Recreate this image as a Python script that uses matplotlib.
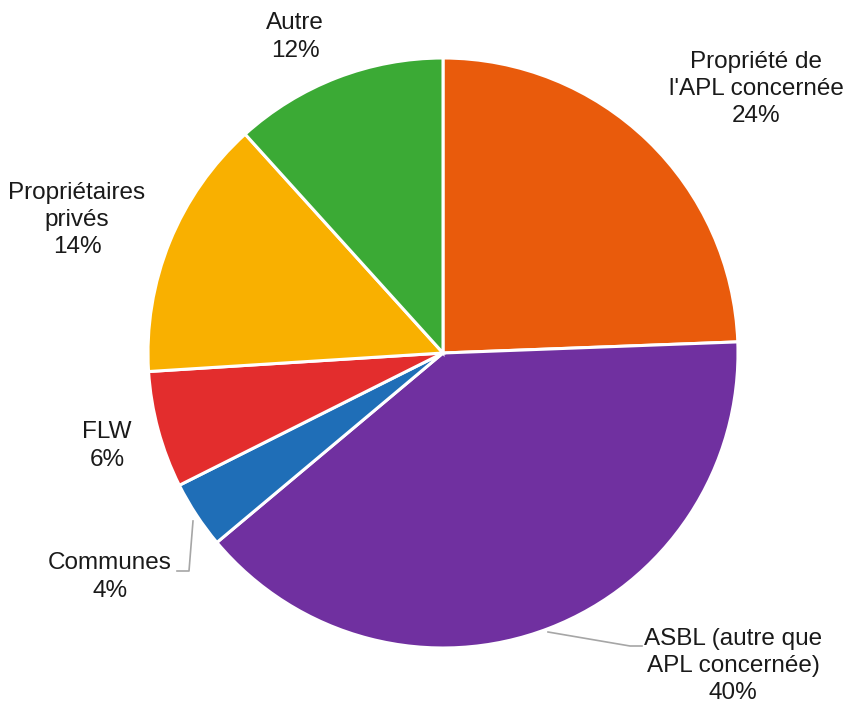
import numpy as np
import matplotlib.pyplot as plt

# share of each owner type, clockwise from 12 o'clock
categories = ["Propriété de\nl'APL concernée", "ASBL (autre que\nAPL concernée)",
              "Communes", "FLW", "Propriétaires\nprivés", "Autre"]
values = [24.4, 39.5, 3.7, 6.4, 14.3, 11.7]
pct_labels = ["24%", "40%", "4%", "6%", "14%", "12%"]
colors = ["#E95B0C", "#7030A0", "#1F6EB7", "#E32D2D", "#F9B000", "#3BAA35"]

plt.rcParams['font.family'] = ['Liberation Sans', 'DejaVu Sans']

W, H = 847, 706
cx, cy, R = 443, 353, 295  # pie centre and radius in pixels

fig = plt.figure(figsize=(W / 100, H / 100), dpi=100)
ax = fig.add_axes([0, 0, 1, 1])

ax.pie(values, colors=colors, startangle=90, counterclock=False,
       wedgeprops=dict(edgecolor='white', linewidth=2.2))

ax.set_xlim(-cx / R, (W - cx) / R)
ax.set_ylim(-(H - cy) / R, cy / R)
ax.set_aspect('auto')
ax.axis('off')

def px(x, y):
    return (x - cx) / R, (cy - y) / R

# label centres in pixels
label_pos = [(756, 89), (733, 666), (110, 577), (107, 446), (77, 220), (295, 37)]
for cat, pct, (lx, ly) in zip(categories, pct_labels, label_pos):
    x, y = px(lx, ly)
    ax.text(x, y, cat + "\n" + pct, ha='center', va='center',
            fontsize=17.5, linespacing=1.32, color='#1a1a1a')

# leader lines for the small / bottom labels
leaders = [
    [(548, 632), (630, 646), (642, 646)],   # ASBL
    [(193, 521), (189, 571), (177, 571)],   # Communes
]
for pts in leaders:
    xs, ys = zip(*[px(a, b) for a, b in pts])
    ax.plot(xs, ys, color='#A6A6A6', linewidth=1.2)

fig.savefig("out.png", dpi=100)
